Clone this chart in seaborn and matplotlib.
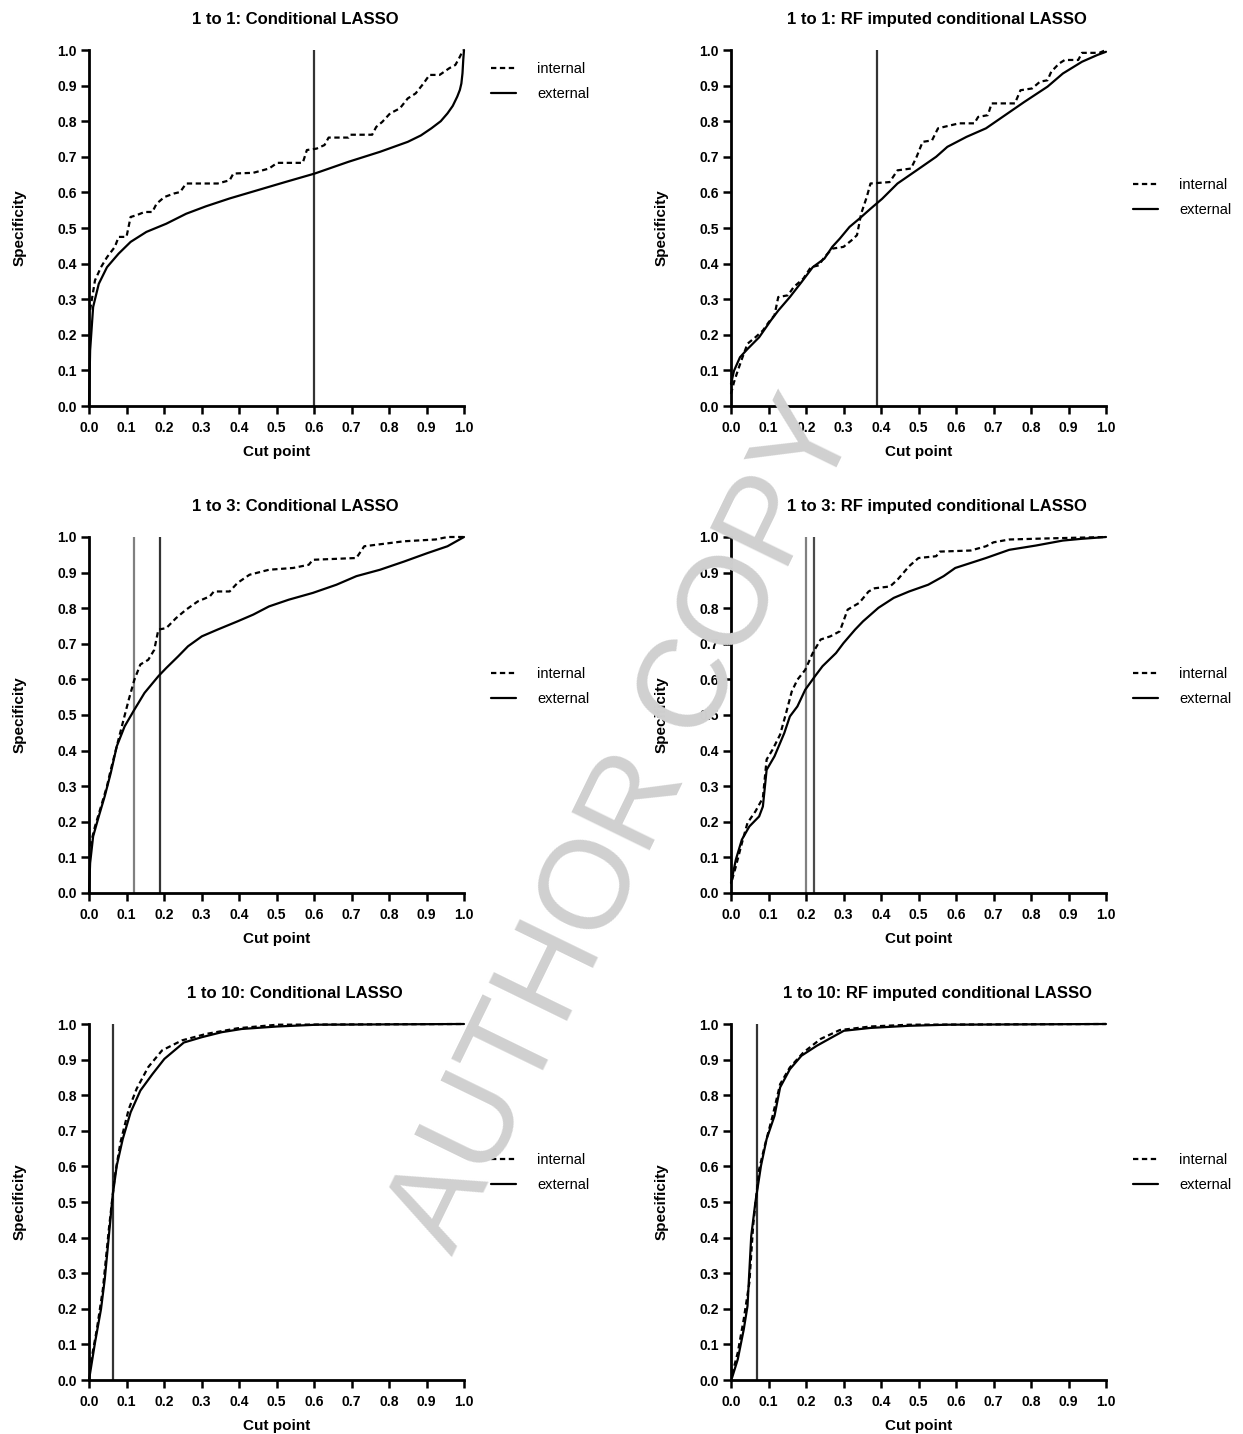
import matplotlib
matplotlib.use("Agg")
import matplotlib.pyplot as plt
import seaborn as sns
import numpy as np
import pandas as pd

# ---------------------------------------------------------------------------
# Data (cut point vs specificity)
# ---------------------------------------------------------------------------
titles = ["1 to 1: Conditional LASSO", "1 to 1: RF imputed conditional LASSO",
          "1 to 3: Conditional LASSO", "1 to 3: RF imputed conditional LASSO",
          "1 to 10: Conditional LASSO", "1 to 10: RF imputed conditional LASSO"]
tick_vals = [0.0, 0.1, 0.2, 0.3, 0.4, 0.5, 0.6, 0.7, 0.8, 0.9, 1.0]

# 1 to 1: Conditional LASSO
p1_int_x = [0.003, 0.016, 0.032, 0.048, 0.069, 0.079, 0.100, 0.111, 0.127, 0.148, 0.169, 0.180,
            0.201, 0.227, 0.243, 0.259, 0.343, 0.375, 0.385, 0.438, 0.480, 0.502, 0.570, 0.581,
            0.607, 0.628, 0.639, 0.692, 0.697, 0.755, 0.766, 0.782, 0.803, 0.829, 0.850, 0.871,
            0.892, 0.908, 0.935, 0.961, 0.977, 0.987, 0.998]
p1_int_y = [0.27, 0.353, 0.39, 0.418, 0.447, 0.475, 0.475, 0.531, 0.536, 0.545, 0.545, 0.568,
            0.587, 0.597, 0.601, 0.625, 0.625, 0.634, 0.653, 0.655, 0.667, 0.683, 0.683, 0.719,
            0.723, 0.733, 0.754, 0.754, 0.762, 0.762, 0.784, 0.798, 0.822, 0.836, 0.864, 0.878,
            0.906, 0.930, 0.930, 0.949, 0.958, 0.977, 1.0]
p1_ext_x = [0.0, 0.003, 0.011, 0.026, 0.048, 0.079, 0.111, 0.153, 0.206, 0.259, 0.312, 0.375,
            0.449, 0.523, 0.602, 0.692, 0.776, 0.850, 0.885, 0.913, 0.938, 0.956, 0.970, 0.982,
            0.989, 0.993, 0.996, 0.998, 1.0]
p1_ext_y = [0.0, 0.156, 0.278, 0.343, 0.390, 0.428, 0.461, 0.489, 0.512, 0.540, 0.561, 0.583,
            0.606, 0.629, 0.653, 0.686, 0.714, 0.742, 0.760, 0.780, 0.800, 0.822, 0.843, 0.869,
            0.888, 0.906, 0.935, 0.972, 1.0]
p1_cuts = [0.60]

# 1 to 1: RF imputed conditional LASSO
p2_int_x = [0.0, 0.008, 0.018, 0.029, 0.044, 0.065, 0.085, 0.101, 0.116, 0.126, 0.152, 0.167,
            0.193, 0.213, 0.234, 0.249, 0.270, 0.300, 0.321, 0.336, 0.347, 0.362, 0.372, 0.423,
            0.444, 0.480, 0.495, 0.511, 0.536, 0.552, 0.608, 0.649, 0.659, 0.685, 0.695, 0.757,
            0.772, 0.803, 0.824, 0.844, 0.854, 0.875, 0.890, 0.926, 0.936, 0.982, 1.0]
p2_int_y = [0.034, 0.067, 0.099, 0.132, 0.175, 0.193, 0.212, 0.236, 0.255, 0.306, 0.311, 0.334,
            0.358, 0.390, 0.395, 0.418, 0.442, 0.447, 0.465, 0.480, 0.540, 0.587, 0.625, 0.629,
            0.662, 0.667, 0.700, 0.742, 0.746, 0.780, 0.794, 0.794, 0.812, 0.817, 0.850, 0.850,
            0.887, 0.892, 0.911, 0.915, 0.939, 0.962, 0.972, 0.972, 0.992, 0.992, 1.0]
p2_ext_x = [0.0, 0.008, 0.024, 0.044, 0.075, 0.106, 0.126, 0.157, 0.188, 0.218, 0.249, 0.270,
            0.290, 0.316, 0.342, 0.372, 0.403, 0.444, 0.495, 0.547, 0.577, 0.628, 0.680, 0.731,
            0.782, 0.844, 0.885, 0.936, 0.977, 1.0]
p2_ext_y = [0.062, 0.099, 0.137, 0.160, 0.193, 0.240, 0.268, 0.306, 0.348, 0.390, 0.414, 0.447,
            0.470, 0.503, 0.526, 0.554, 0.582, 0.625, 0.662, 0.700, 0.728, 0.756, 0.780, 0.817,
            0.854, 0.897, 0.934, 0.967, 0.986, 0.995]
p2_cuts = [0.39]

# 1 to 3: Conditional LASSO
p3_int_x = [0.003, 0.016, 0.032, 0.048, 0.058, 0.074, 0.090, 0.106, 0.121, 0.137, 0.158, 0.174,
            0.185, 0.206, 0.232, 0.259, 0.290, 0.322, 0.333, 0.375, 0.396, 0.428, 0.480, 0.544,
            0.586, 0.597, 0.713, 0.734, 0.787, 0.840, 0.924, 0.956, 1.0]
p3_int_y = [0.131, 0.187, 0.243, 0.300, 0.346, 0.412, 0.478, 0.543, 0.599, 0.642, 0.655, 0.683,
            0.740, 0.744, 0.772, 0.796, 0.819, 0.833, 0.847, 0.847, 0.871, 0.894, 0.908, 0.913,
            0.922, 0.936, 0.941, 0.974, 0.981, 0.988, 0.993, 1.0, 1.0]
p3_ext_x = [0.0, 0.003, 0.011, 0.026, 0.042, 0.058, 0.074, 0.095, 0.121, 0.148, 0.185, 0.206,
            0.238, 0.264, 0.301, 0.343, 0.396, 0.438, 0.480, 0.533, 0.597, 0.660, 0.713, 0.776,
            0.840, 0.903, 0.956, 1.0]
p3_ext_y = [0.0, 0.084, 0.159, 0.215, 0.272, 0.337, 0.412, 0.468, 0.515, 0.562, 0.609, 0.632,
            0.665, 0.693, 0.721, 0.740, 0.763, 0.782, 0.805, 0.824, 0.843, 0.866, 0.890, 0.908,
            0.931, 0.955, 0.974, 1.0]
p3_cuts = [0.12, 0.19]

# 1 to 3: RF imputed conditional LASSO
p4_int_x = [0.003, 0.013, 0.029, 0.044, 0.065, 0.085, 0.095, 0.111, 0.131, 0.147, 0.162, 0.177,
            0.198, 0.218, 0.239, 0.265, 0.290, 0.311, 0.342, 0.367, 0.383, 0.424, 0.444, 0.475,
            0.500, 0.547, 0.557, 0.639, 0.680, 0.700, 0.742, 0.844, 1.0]
p4_int_y = [0.037, 0.075, 0.140, 0.197, 0.229, 0.267, 0.375, 0.403, 0.445, 0.506, 0.566, 0.599,
            0.627, 0.674, 0.712, 0.721, 0.735, 0.796, 0.815, 0.847, 0.856, 0.861, 0.880, 0.918,
            0.941, 0.946, 0.959, 0.962, 0.974, 0.985, 0.993, 0.996, 1.0]
p4_ext_x = [0.0, 0.013, 0.029, 0.049, 0.075, 0.085, 0.095, 0.116, 0.142, 0.157, 0.177, 0.198,
            0.224, 0.244, 0.280, 0.300, 0.331, 0.352, 0.393, 0.434, 0.475, 0.526, 0.567, 0.598,
            0.639, 0.680, 0.742, 0.813, 0.885, 0.936, 1.0]
p4_ext_y = [0.028, 0.094, 0.150, 0.187, 0.215, 0.243, 0.346, 0.384, 0.449, 0.496, 0.524, 0.571,
            0.609, 0.637, 0.674, 0.702, 0.740, 0.763, 0.801, 0.829, 0.847, 0.866, 0.890, 0.913,
            0.927, 0.941, 0.964, 0.976, 0.990, 0.995, 1.0]
p4_cuts = [0.20, 0.22]

# 1 to 10: Conditional LASSO
p5_int_x = [0.005, 0.021, 0.037, 0.053, 0.069, 0.084, 0.106, 0.127, 0.158, 0.195, 0.248, 0.312,
            0.396, 0.502, 1.0]
p5_int_y = [0.049, 0.143, 0.255, 0.424, 0.574, 0.668, 0.761, 0.818, 0.879, 0.926, 0.954, 0.972,
            0.988, 0.998, 1.0]
p5_ext_x = [0.0, 0.016, 0.032, 0.042, 0.053, 0.063, 0.074, 0.090, 0.111, 0.137, 0.169, 0.201,
            0.253, 0.301, 0.354, 0.407, 0.502, 0.607, 1.0]
p5_ext_y = [0.0, 0.105, 0.199, 0.283, 0.405, 0.517, 0.602, 0.677, 0.752, 0.813, 0.859, 0.902,
            0.948, 0.963, 0.977, 0.986, 0.993, 0.998, 1.0]
p5_cuts = [0.065]

# 1 to 10: RF imputed conditional LASSO
p6_int_x = [0.003, 0.018, 0.034, 0.049, 0.059, 0.075, 0.090, 0.111, 0.131, 0.157, 0.193, 0.239,
            0.290, 0.372, 0.475, 1.0]
p6_int_y = [0.016, 0.077, 0.171, 0.274, 0.433, 0.592, 0.658, 0.742, 0.831, 0.878, 0.920, 0.958,
            0.983, 0.993, 0.998, 1.0]
p6_ext_x = [0.003, 0.018, 0.034, 0.044, 0.054, 0.065, 0.080, 0.095, 0.116, 0.131, 0.157, 0.188,
            0.229, 0.270, 0.301, 0.372, 0.475, 0.577, 1.0]
p6_ext_y = [0.007, 0.058, 0.142, 0.208, 0.405, 0.499, 0.602, 0.677, 0.742, 0.822, 0.873, 0.911,
            0.939, 0.963, 0.981, 0.989, 0.995, 0.998, 1.0]
p6_cuts = [0.07]

panels = [
    (p1_int_x, p1_int_y, p1_ext_x, p1_ext_y, p1_cuts),
    (p2_int_x, p2_int_y, p2_ext_x, p2_ext_y, p2_cuts),
    (p3_int_x, p3_int_y, p3_ext_x, p3_ext_y, p3_cuts),
    (p4_int_x, p4_int_y, p4_ext_x, p4_ext_y, p4_cuts),
    (p5_int_x, p5_int_y, p5_ext_x, p5_ext_y, p5_cuts),
    (p6_int_x, p6_int_y, p6_ext_x, p6_ext_y, p6_cuts),
]

# ---------------------------------------------------------------------------
# Layout / style
# ---------------------------------------------------------------------------
sns.set_style("ticks")
plt.rcParams['font.family'] = ['Liberation Sans', 'DejaVu Sans']
plt.rcParams.update({'text.color': 'black', 'axes.labelcolor': 'black',
                     'xtick.color': 'black', 'ytick.color': 'black'})

W, H = 1243, 1434
fig = plt.figure(figsize=(W / 100, H / 100), dpi=100)

lefts = [89, 731]
tops = [50, 537, 1024]
legend_y = [0.911, 0.586, 0.58, 0.58, 0.583, 0.583]
cut_colors = {1: ['#333333'], 2: ['#808080', '#333333']}

for i, (ix, iy, ex, ey, cuts) in enumerate(panels):
    r, c = divmod(i, 2)
    ax = fig.add_axes([lefts[c] / W, 1 - (tops[r] + 356) / H, 375 / W, 356 / H])

    for j, cx in enumerate(cuts):
        col = cut_colors[len(cuts)][j]
        if i == 3 and j == 1:
            col = '#4a4a4a'
        ax.axvline(cx, color=col, lw=1.6, zorder=1)

    df_int = pd.DataFrame({'cut': ix, 'spec': iy})
    df_ext = pd.DataFrame({'cut': ex, 'spec': ey})
    sns.lineplot(data=df_int, x='cut', y='spec', ax=ax, color='black', lw=1.6,
                 linestyle=(0, (2.4, 1.6)), sort=False, estimator=None,
                 label='internal', clip_on=False, zorder=3)
    sns.lineplot(data=df_ext, x='cut', y='spec', ax=ax, color='black', lw=1.6,
                 sort=False, estimator=None, label='external', clip_on=False, zorder=3)

    ax.set_xlim(0, 1)
    ax.set_ylim(0, 1)
    ax.set_xticks(tick_vals)
    ax.set_yticks(tick_vals)
    ax.set_xticklabels([f'{v:.1f}' for v in tick_vals], fontsize=10, fontweight='bold')
    ax.set_yticklabels([f'{v:.1f}' for v in tick_vals], fontsize=10, fontweight='bold')
    ax.tick_params(direction='out', length=6, width=1.8, pad=3)
    ax.tick_params(axis='x', pad=5)
    sns.despine(ax=ax)
    for s in ['left', 'bottom']:
        ax.spines[s].set_linewidth(2)
        ax.spines[s].set_color('black')

    ax.set_xlabel('Cut point', fontsize=11, fontweight='bold', labelpad=7)
    ax.set_ylabel('Specificity', fontsize=11, fontweight='bold', labelpad=22)
    ax.set_title(titles[i], fontsize=12, fontweight='bold', pad=19, x=0.55)

    ax.legend(loc='center left', bbox_to_anchor=(1.072, legend_y[i]), frameon=False,
              fontsize=10.5, handlelength=1.7, handletextpad=1.45, labelspacing=0.75,
              borderpad=0, borderaxespad=0)

# watermark
fig.text(0.503, 0.424, 'AUTHOR COPY', fontsize=91, color='#d0d0d0', rotation=64,
         ha='center', va='center', rotation_mode='anchor', zorder=10)

fig.savefig('out.png', dpi=100)
